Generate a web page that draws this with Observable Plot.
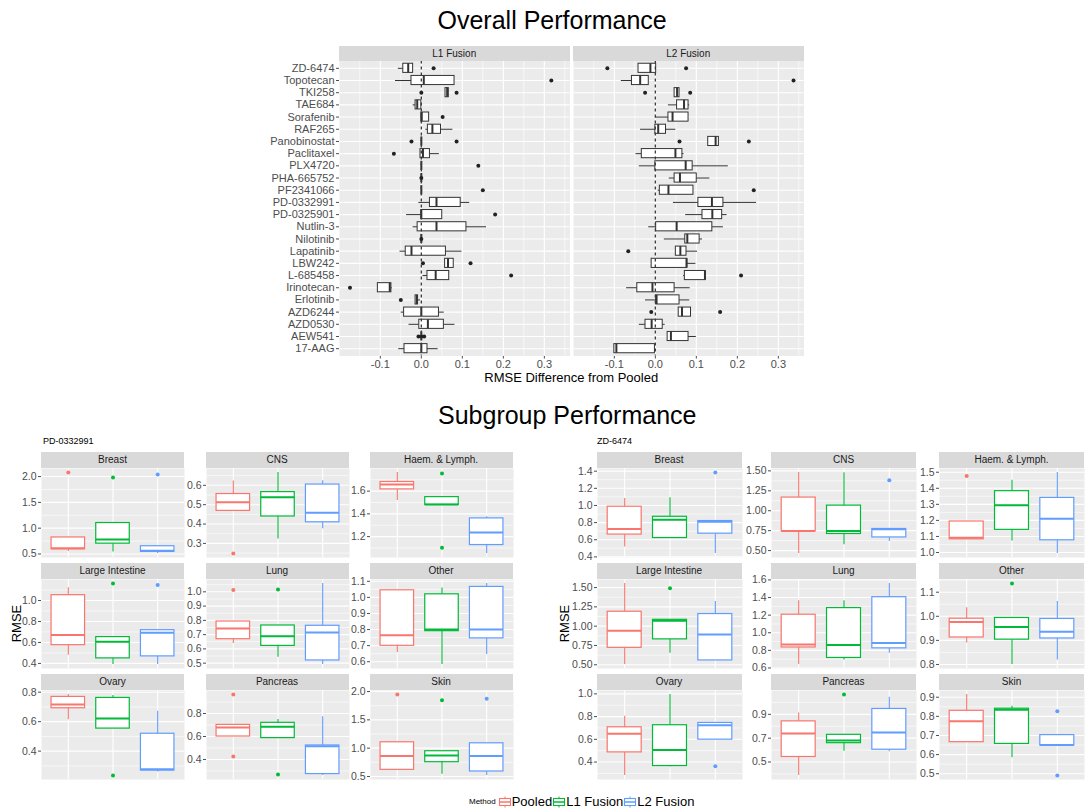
<!DOCTYPE html>
<html>
<head>
<meta charset="utf-8">
<script src="https://cdn.jsdelivr.net/npm/d3@7"></script>
<script src="https://cdn.jsdelivr.net/npm/@observablehq/plot@0.6"></script>
<style>
  body { margin: 0; background: #fff; font-family: "Liberation Sans", Arial, sans-serif; }
  #fig { position: relative; width: 1087px; height: 809px; overflow: hidden; }
  .strip { position: absolute; background: #D9D9D9; color: #1A1A1A; font-size: 10px;
           display: flex; align-items: center; justify-content: center; white-space: nowrap; }
  .txt { position: absolute; white-space: nowrap; color: #000; }
  .legend { position: absolute; display: flex; align-items: center; white-space: nowrap; }
  .legend span { font-size: 13px; color: #000; }
  .legend svg { display: block; }
</style>
</head>
<body>
<div id="fig"></div>
<script>
// ---------------- data ----------------
const methods = ["Pooled", "L1 Fusion", "L2 Fusion"];
const fusionMethods = ["L1 Fusion", "L2 Fusion"];
const methodColors = ["#F8766D", "#00BA38", "#619CFF"];

const drugs = ["ZD-6474", "Topotecan", "TKI258", "TAE684", "Sorafenib", "RAF265", "Panobinostat",
  "Paclitaxel", "PLX4720", "PHA-665752", "PF2341066", "PD-0332991", "PD-0325901", "Nutlin-3",
  "Nilotinib", "Lapatinib", "LBW242", "L-685458", "Irinotecan", "Erlotinib", "AZD6244",
  "AZD0530", "AEW541", "17-AAG"];

// box summaries: [lower whisker, Q1, median, Q3, upper whisker]
const l1Stats = [
  [-0.056, -0.044, -0.032, -0.020, -0.020],
  [-0.063, -0.024, 0.006, 0.081, 0.081],
  [0.059, 0.059, 0.063, 0.067, 0.067],
  [-0.020, -0.014, -0.010, 0.000, 0.000],
  [0.000, 0.000, 0.001, 0.019, 0.019],
  [0.011, 0.016, 0.027, 0.048, 0.077],
  [0, 0, 0, 0, 0],
  [-0.002, -0.002, 0.004, 0.021, 0.044],
  [0, 0, 0, 0, 0],
  [0, 0, 0, 0, 0],
  [0, 0, 0, 0, 0],
  [-0.006, 0.021, 0.037, 0.096, 0.118],
  [-0.036, 0.000, 0.000, 0.051, 0.051],
  [-0.020, -0.009, 0.037, 0.110, 0.159],
  [0, 0, 0, 0, 0],
  [-0.052, -0.038, -0.024, 0.060, 0.099],
  [0.058, 0.058, 0.065, 0.079, 0.079],
  [0.004, 0.015, 0.035, 0.068, 0.068],
  [-0.106, -0.106, -0.077, -0.073, -0.071],
  [-0.014, -0.014, -0.011, -0.008, -0.002],
  [-0.049, -0.042, 0.000, 0.043, 0.056],
  [-0.030, -0.005, 0.016, 0.055, 0.082],
  [0, 0, 0, 0, 0],
  [-0.055, -0.041, 0.000, 0.015, 0.041]
];
const l1Outliers = [[0.030], [0.317], [0, 0.086], [], [0.052], [], [-0.024, 0.086], [-0.067],
  [0.139], [0], [0.150], [], [0.180], [], [0], [], [0.004, 0.120], [0.219], [-0.174], [-0.050],
  [], [], [-0.007, 0, 0.007], []];

const l2Stats = [
  [-0.041, -0.041, -0.012, 0.002, 0.002],
  [-0.083, -0.057, -0.037, -0.016, -0.016],
  [0.047, 0.047, 0.053, 0.059, 0.059],
  [0.032, 0.053, 0.070, 0.081, 0.084],
  [0.000, 0.032, 0.042, 0.081, 0.081],
  [-0.036, 0.000, 0.007, 0.026, 0.050],
  [0.129, 0.129, 0.147, 0.155, 0.155],
  [-0.047, -0.033, 0.049, 0.066, 0.070],
  [-0.039, 0.000, 0.074, 0.091, 0.178],
  [0.034, 0.047, 0.060, 0.101, 0.133],
  [0.007, 0.011, 0.032, 0.093, 0.093],
  [0.044, 0.105, 0.138, 0.166, 0.247],
  [0.074, 0.115, 0.139, 0.163, 0.175],
  [-0.016, 0.002, 0.052, 0.139, 0.166],
  [0.022, 0.073, 0.078, 0.108, 0.115],
  [0.050, 0.050, 0.061, 0.076, 0.103],
  [-0.009, -0.009, 0.076, 0.078, 0.099],
  [0.069, 0.072, 0.121, 0.123, 0.123],
  [-0.070, -0.044, -0.007, 0.047, 0.085],
  [-0.024, 0.002, 0.003, 0.059, 0.084],
  [0.057, 0.057, 0.065, 0.087, 0.087],
  [-0.039, -0.024, -0.009, 0.018, 0.024],
  [0.030, 0.030, 0.038, 0.081, 0.100],
  [-0.100, -0.100, -0.095, -0.001, -0.001]
];
const l2Outliers = [[-0.117, 0.075], [0.337], [-0.025, 0.085], [], [], [], [0.059, 0.228], [], [],
  [], [0.240], [], [], [], [], [-0.066], [], [0.209], [], [], [-0.010, 0.158], [], [], []];

const overallTicks = ["-0.1", "0.0", "0.1", "0.2", "0.3"];

const tissues = ["Breast", "CNS", "Haem. & Lymph.", "Large Intestine", "Lung", "Other",
  "Ovary", "Pancreas", "Skin"];

// per tissue: [Pooled, L1 Fusion, L2 Fusion], each [lower whisker, Q1, median, Q3, upper whisker]
const pdStats = [
  [[0.55, 0.59, 0.61, 0.82, 0.82], [0.54, 0.70, 0.78, 1.10, 1.10], [0.51, 0.54, 0.56, 0.65, 0.65]],
  [[0.468, 0.468, 0.513, 0.555, 0.622], [0.323, 0.439, 0.539, 0.565, 0.666], [0.375, 0.409, 0.458, 0.604, 0.624]],
  [[1.517, 1.615, 1.657, 1.680, 1.763], [1.479, 1.479, 1.482, 1.547, 1.547], [1.052, 1.126, 1.236, 1.360, 1.375]],
  [[0.479, 0.574, 0.670, 1.051, 1.121], [0.390, 0.448, 0.606, 0.651, 0.651], [0.390, 0.467, 0.692, 0.717, 0.720]],
  [[0.638, 0.668, 0.743, 0.792, 0.792], [0.542, 0.621, 0.689, 0.764, 0.764], [0.491, 0.519, 0.715, 0.762, 1.058]],
  [[0.658, 0.699, 0.765, 1.044, 1.044], [0.583, 0.790, 0.800, 1.019, 1.059], [0.645, 0.745, 0.800, 1.065, 1.086]],
  [[0.613, 0.691, 0.717, 0.768, 0.784], [0.553, 0.553, 0.622, 0.761, 0.777], [0.258, 0.268, 0.277, 0.518, 0.671]],
  [[0.600, 0.600, 0.678, 0.701, 0.701], [0.586, 0.586, 0.684, 0.719, 0.748], [0.261, 0.273, 0.516, 0.522, 0.771]],
  [[0.617, 0.617, 0.863, 1.104, 1.104], [0.541, 0.752, 0.869, 0.946, 0.946], [0.518, 0.588, 0.863, 1.086, 1.086]]
];
const pdOutliers = [
  [[2.078], [1.98], [2.04]],
  [[0.248], [], []],
  [[], [1.755, 1.102], []],
  [[], [1.162], [1.149]],
  [[1.012], [1.016], []],
  [[], [], []],
  [[], [0.235], []],
  [[0.965, 0.426], [0.27], []],
  [[1.947], [1.848], [1.871]]
];
const pdTicks = [
  ["0.5", "1.0", "1.5", "2.0"],
  ["0.3", "0.4", "0.5", "0.6"],
  ["1.2", "1.4", "1.6"],
  ["0.4", "0.6", "0.8", "1.0"],
  ["0.5", "0.6", "0.7", "0.8", "0.9", "1.0"],
  ["0.6", "0.7", "0.8", "0.9", "1.0", "1.1"],
  ["0.4", "0.6", "0.8"],
  ["0.4", "0.6", "0.8"],
  ["0.5", "1.0", "1.5", "2.0"]
];

const zdStats = [
  [[0.516, 0.660, 0.726, 0.985, 1.082], [0.620, 0.620, 0.834, 0.868, 1.090], [0.440, 0.671, 0.810, 0.818, 0.818]],
  [[0.464, 0.742, 0.746, 1.165, 1.479], [0.572, 0.708, 0.746, 1.064, 1.475], [0.614, 0.665, 0.767, 0.771, 0.771]],
  [[1.082, 1.082, 1.092, 1.193, 1.193], [1.071, 1.141, 1.294, 1.382, 1.450], [0.994, 1.076, 1.210, 1.340, 1.498]],
  [[0.504, 0.719, 0.942, 1.187, 1.552], [0.649, 0.829, 1.070, 1.082, 1.082], [0.556, 0.556, 0.891, 1.157, 1.320]],
  [[0.640, 0.833, 0.867, 1.205, 1.363], [0.692, 0.714, 0.860, 1.280, 1.363], [0.767, 0.823, 0.883, 1.404, 1.559]],
  [[0.889, 0.912, 0.976, 0.990, 1.035], [0.800, 0.903, 0.956, 0.993, 0.993], [0.819, 0.908, 0.936, 0.989, 1.061]],
  [[0.282, 0.485, 0.650, 0.706, 0.803], [0.356, 0.365, 0.506, 0.724, 0.994], [0.597, 0.597, 0.724, 0.744, 0.744]],
  [[0.387, 0.542, 0.739, 0.841, 0.911], [0.590, 0.658, 0.680, 0.728, 0.728], [0.586, 0.603, 0.748, 0.945, 1.044]],
  [[0.665, 0.665, 0.775, 0.829, 0.914], [0.584, 0.656, 0.834, 0.840, 0.853], [0.648, 0.648, 0.650, 0.702, 0.702]]
];
const zdOutliers = [
  [[], [], [1.384]],
  [[], [], [1.383]],
  [[1.477], [], []],
  [[], [1.491], []],
  [[], [], []],
  [[], [1.136], []],
  [[], [], [0.362]],
  [[], [1.066], []],
  [[], [], [0.827, 0.491]]
];
const zdTicks = [
  ["0.4", "0.6", "0.8", "1.0", "1.2", "1.4"],
  ["0.50", "0.75", "1.00", "1.25", "1.50"],
  ["1.0", "1.1", "1.2", "1.3", "1.4", "1.5"],
  ["0.50", "0.75", "1.00", "1.25", "1.50"],
  ["0.6", "0.8", "1.0", "1.2", "1.4", "1.6"],
  ["0.8", "0.9", "1.0", "1.1"],
  ["0.4", "0.6", "0.8", "1.0"],
  ["0.5", "0.7", "0.9"],
  ["0.5", "0.6", "0.7", "0.8", "0.9"]
];

// ---------------- helpers ----------------
const FONT = "'Liberation Sans', Arial, sans-serif";
const PANEL_BG = "#EBEBEB";
const INK = "#333333";
const fig = document.getElementById("fig");

function put(el, left, top) {
  el.style.position = "absolute";
  el.style.left = left + "px";
  el.style.top = top + "px";
  fig.appendChild(el);
  return el;
}
function text(str, x, y, size, anchor = "middle", extra = {}) {
  const d = document.createElement("div");
  d.className = "txt";
  d.textContent = str;
  d.style.fontSize = size + "px";
  d.style.lineHeight = "1";
  Object.assign(d.style, extra);
  fig.appendChild(d);
  const w = d.offsetWidth, h = d.offsetHeight;
  const left = anchor === "middle" ? x - w / 2 : anchor === "end" ? x - w : x;
  d.style.left = left + "px";
  d.style.top = (y - h / 2) + "px";
  return d;
}
function strip(label, left, top, width, height) {
  const d = document.createElement("div");
  d.className = "strip";
  d.textContent = label;
  d.style.width = width + "px";
  d.style.height = height + "px";
  return put(d, left, top);
}
function padded([a, b]) {
  const p = (b - a) * 0.05;
  return [a - p, b + p];
}

// ---------------- overall performance ----------------
const overallRows = [];
const overallPoints = [];
[["L1 Fusion", l1Stats, l1Outliers], ["L2 Fusion", l2Stats, l2Outliers]].forEach(([method, stats, outs]) => {
  drugs.forEach((drug, i) => {
    const [lo, q1, med, q3, hi] = stats[i];
    overallRows.push({method, drug, lo, q1, med, q3, hi});
    outs[i].forEach(v => overallPoints.push({method, drug, value: v}));
  });
});
const xDomain = padded(d3.extent(overallRows.flatMap(r => [r.lo, r.hi]).concat(overallPoints.map(p => p.value))));
const xMajor = overallTicks.map(Number);
const xMinor = d3.range(-0.25, 0.45, 0.1).map(v => +v.toFixed(2)).filter(v => v > xDomain[0] && v < xDomain[1]);

const P_LEFT = 339, P_RIGHT = 803.5, P_TOP = 60.5, P_BOTTOM = 355.5;
const overall = Plot.plot({
  width: 1087,
  height: 392,
  marginTop: P_TOP,
  marginBottom: 392 - P_BOTTOM,
  marginLeft: P_LEFT,
  marginRight: 1087 - P_RIGHT,
  style: {fontFamily: FONT, fontSize: "11px", color: "#4D4D4D", background: "transparent", overflow: "visible"},
  fx: {domain: fusionMethods, paddingInner: 0.015, paddingOuter: 0, round: false, axis: null, label: null},
  x: {domain: xDomain, ticks: xMajor, tickFormat: (d) => overallTicks[xMajor.indexOf(d)] ?? d.toFixed(1),
      tickSize: 3, tickPadding: 1.5, label: null},
  y: {type: "band", domain: drugs, paddingInner: 0.25, paddingOuter: 0.225, round: false,
      tickSize: 3, tickPadding: 2, label: null},
  marks: [
    Plot.frame({fill: PANEL_BG, stroke: null}),
    Plot.ruleX(xMinor, {stroke: "white", strokeWidth: 0.6}),
    Plot.ruleX(xMajor, {stroke: "white", strokeWidth: 1.1}),
    Plot.ruleY(drugs, {y: d => d, stroke: "white", strokeWidth: 1.1}),
    Plot.ruleY(overallRows, {fx: "method", y: "drug", x1: "lo", x2: "q1", stroke: INK, strokeWidth: 1}),
    Plot.ruleY(overallRows, {fx: "method", y: "drug", x1: "q3", x2: "hi", stroke: INK, strokeWidth: 1}),
    Plot.barX(overallRows, {fx: "method", y: "drug", x1: "q1", x2: "q3", fill: "white", stroke: INK, strokeWidth: 1}),
    Plot.tickX(overallRows, {fx: "method", y: "drug", x: "med", stroke: INK, strokeWidth: 2}),
    Plot.ruleX([0], {stroke: "#3a3a3a", strokeWidth: 1.3, strokeDasharray: "3,3"}),
    Plot.dot(overallPoints, {fx: "method", y: "drug", x: "value", fill: "#222", stroke: null, r: 2})
  ]
});
put(overall, 0, 0);

// facet strips for the two fusion methods
const gap = 3.5;
const facetW = (P_RIGHT - P_LEFT - gap) / 2;
fusionMethods.forEach((m, i) => strip(m, P_LEFT + i * (facetW + gap), 45.5, facetW, 15));

text("Overall Performance", 552, 20, 25);
text("RMSE Difference from Pooled", (P_LEFT + P_RIGHT) / 2, 377, 13);

// ---------------- subgroup performance ----------------
const ROW_STRIP = [451.5, 562.5, 673.5];
const STRIP_H = 16.5;
const PANEL_H = 89;
const TICK_M = 36;

function subPanel(stats, outs, ticks) {
  const rows = methods.map((m, j) => {
    const [lo, q1, med, q3, hi] = stats[j];
    return {method: m, lo, q1, med, q3, hi};
  });
  const pts = methods.flatMap((m, j) => outs[j].map(v => ({method: m, value: v})));
  const dom = padded(d3.extent(rows.flatMap(r => [r.lo, r.hi]).concat(pts.map(p => p.value))));
  const tv = ticks.map(Number);
  const step = tv[1] - tv[0];
  const minor = [tv[0] - step / 2, ...tv.map(t => t + step / 2)].filter(v => v > dom[0] && v < dom[1]);
  const decimals = (ticks[0].split(".")[1] || "").length;
  return {rows, pts, dom, tv, minor, fmt: d3.format(`.${decimals}f`)};
}

function drawBlock(blockLabel, stats, outs, ticks, colX, panelW, labelX) {
  text(blockLabel, labelX, ROW_STRIP[0] - 10, 9, "start");
  tissues.forEach((tissue, k) => {
    const r = Math.floor(k / 3), c = k % 3;
    const px = colX[c], top = ROW_STRIP[r];
    strip(tissue, px, top, panelW, STRIP_H);
    const s = subPanel(stats[k], outs[k], ticks[k]);
    const chart = Plot.plot({
      width: panelW + TICK_M,
      height: PANEL_H,
      marginLeft: TICK_M, marginRight: 0, marginTop: 0, marginBottom: 0,
      style: {fontFamily: FONT, fontSize: "10.5px", color: "#4D4D4D", background: "transparent", overflow: "visible"},
      x: {type: "band", domain: methods, paddingInner: 0.25, paddingOuter: 0.225, round: false, axis: null},
      y: {domain: s.dom, ticks: s.tv, tickFormat: s.fmt, tickSize: 3, tickPadding: 2, label: null},
      color: {domain: methods, range: methodColors},
      marks: [
        Plot.frame({fill: PANEL_BG, stroke: null}),
        Plot.ruleY(s.minor, {stroke: "white", strokeWidth: 0.6}),
        Plot.ruleY(s.tv, {stroke: "white", strokeWidth: 1.1}),
        Plot.ruleX(methods, {x: d => d, stroke: "white", strokeWidth: 1.1}),
        Plot.ruleX(s.rows, {x: "method", y1: "lo", y2: "q1", stroke: "method", strokeWidth: 1.1}),
        Plot.ruleX(s.rows, {x: "method", y1: "q3", y2: "hi", stroke: "method", strokeWidth: 1.1}),
        Plot.barY(s.rows, {x: "method", y1: "q1", y2: "q3", fill: "white", stroke: "method", strokeWidth: 1.2}),
        Plot.tickY(s.rows, {x: "method", y: "med", stroke: "method", strokeWidth: 2}),
        Plot.dot(s.pts, {x: "method", y: "value", fill: "method", stroke: null, r: 2})
      ]
    });
    put(chart, px - TICK_M, top + STRIP_H);
  });
}

drawBlock("PD-0332991", pdStats, pdOutliers, pdTicks, [41, 205.5, 369.5], 143, 43);
drawBlock("ZD-6474", zdStats, zdOutliers, zdTicks, [596.5, 771, 939], 145, 597);

const yTitleMid = 623;
text("RMSE", 17, yTitleMid, 13, "middle", {transform: "rotate(-90deg)"});
text("RMSE", 565, yTitleMid, 13, "middle", {transform: "rotate(-90deg)"});
text("Subgroup Performance", 567, 415, 25);

// ---------------- legend ----------------
const legend = document.createElement("div");
legend.className = "legend";
const title = document.createElement("span");
title.textContent = "Method";
title.style.fontSize = "8px";
title.style.marginRight = "2px";
legend.appendChild(title);
const ns = "http://www.w3.org/2000/svg";
methods.forEach((m, i) => {
  const svg = document.createElementNS(ns, "svg");
  svg.setAttribute("width", 14);
  svg.setAttribute("height", 14);
  const col = methodColors[i];
  const add = (tag, attrs) => {
    const e = document.createElementNS(ns, tag);
    for (const k in attrs) e.setAttribute(k, attrs[k]);
    svg.appendChild(e);
  };
  add("line", {x1: 7, x2: 7, y1: 1.5, y2: 3.5, stroke: col, "stroke-width": 1});
  add("line", {x1: 7, x2: 7, y1: 10.5, y2: 12.5, stroke: col, "stroke-width": 1});
  add("rect", {x: 1.5, y: 3.5, width: 11, height: 7, fill: "white", stroke: col, "stroke-width": 1.1});
  add("line", {x1: 1.5, x2: 12.5, y1: 7, y2: 7, stroke: col, "stroke-width": 1.5});
  legend.appendChild(svg);
  const lab = document.createElement("span");
  lab.textContent = m;
  legend.appendChild(lab);
});
put(legend, 469, 794);
</script>
</body>
</html>
